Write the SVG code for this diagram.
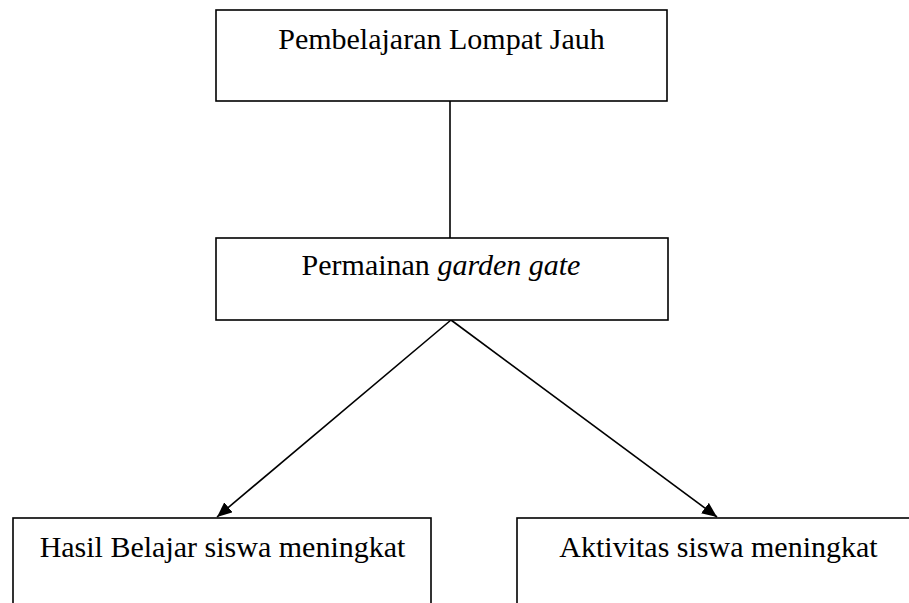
<svg xmlns="http://www.w3.org/2000/svg" width="909" height="603" viewBox="0 0 909 603">
  <style>
    .box { fill: #ffffff; stroke: #000000; stroke-width: 1.6; }
    .lbl { font-family: "Liberation Serif", "Times New Roman", serif; font-size: 30px; fill: #000000; text-anchor: middle; }
    .conn { stroke: #000000; stroke-width: 1.6; fill: none; }
  </style>
  <defs>
    <marker id="arrow" markerUnits="userSpaceOnUse" markerWidth="16" markerHeight="14" refX="15" refY="6.5" orient="auto">
      <path d="M0,0 L15,6.5 L0,13 z" fill="#000000"/>
    </marker>
  </defs>
  <rect width="909" height="603" fill="#ffffff"/>
  <g id="connectors">
    <line class="conn" x1="450" y1="101" x2="450" y2="238"/>
    <line class="conn" x1="451" y1="320" x2="217" y2="517" marker-end="url(#arrow)"/>
    <line class="conn" x1="451" y1="320" x2="717" y2="517" marker-end="url(#arrow)"/>
  </g>
  <g id="node-pembelajaran">
    <rect class="box" x="216" y="10" width="451" height="91"/>
    <text class="lbl" x="441.5" y="49">Pembelajaran Lompat Jauh</text>
  </g>
  <g id="node-permainan">
    <rect class="box" x="216" y="238" width="452" height="82"/>
    <text class="lbl" x="441" y="275">Permainan <tspan font-style="italic">garden gate</tspan></text>
  </g>
  <g id="node-hasil">
    <rect class="box" x="13" y="518" width="418" height="100"/>
    <text class="lbl" x="222.5" y="557">Hasil Belajar siswa meningkat</text>
  </g>
  <g id="node-aktivitas">
    <rect class="box" x="517" y="518" width="403" height="100"/>
    <text class="lbl" x="718.5" y="557">Aktivitas siswa meningkat</text>
  </g>
</svg>
